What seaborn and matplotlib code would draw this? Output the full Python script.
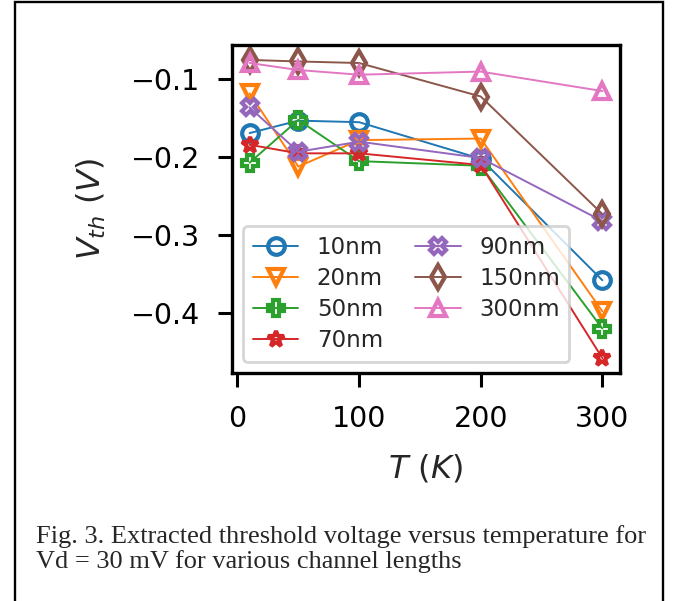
import matplotlib
matplotlib.use("Agg")
import matplotlib.pyplot as plt
import seaborn as sns
from matplotlib.patches import Rectangle

# temperature points (K)
temps = [10, 50, 100, 200, 300]

# threshold voltage (V) per channel length
vth_10nm = [-0.169, -0.153, -0.155, -0.202, -0.358]
vth_20nm = [-0.118, -0.212, -0.178, -0.176, -0.398]
vth_50nm = [-0.207, -0.152, -0.205, -0.211, -0.420]
vth_70nm = [-0.184, -0.195, -0.195, -0.210, -0.458]
vth_90nm = [-0.136, -0.193, -0.180, -0.201, -0.282]
vth_150nm = [-0.075, -0.077, -0.079, -0.122, -0.273]
vth_300nm = [-0.079, -0.088, -0.094, -0.090, -0.115]

labels = ["10nm", "20nm", "50nm", "70nm", "90nm", "150nm", "300nm"]
series = [vth_10nm, vth_20nm, vth_50nm, vth_70nm, vth_90nm, vth_150nm, vth_300nm]
markers = ["o", "v", "P", "*", "X", "d", "^"]

sns.set_style("ticks")
plt.rcParams["font.family"] = ["DejaVu Sans"]
plt.rcParams["mathtext.fontset"] = "dejavusans"

colors = sns.color_palette("tab10", len(labels))

fig = plt.figure(figsize=(6.81, 6.01), dpi=100)
ax = fig.add_axes([232 / 681, 1 - 373 / 601, 388 / 681, 328 / 601])

for lab, vals, mk, c in zip(labels, series, markers, colors):
    sns.lineplot(x=temps, y=vals, ax=ax, color=c, marker=mk, mec=c,
                 fillstyle="none", ms=12, mew=3.0, lw=1.4, label=lab)

ax.set_xticks([0, 100, 200, 300])
ax.set_yticks([-0.1, -0.2, -0.3, -0.4])
ax.set_xlabel(r"$T\ (K)$", fontsize=23, labelpad=14)
ax.set_ylabel(r"$V_{th}\ (V)$", fontsize=23, labelpad=16)
ax.tick_params(axis="both", labelsize=20.5, length=10, width=2.2,
               colors="black", pad=13)
for sp in ax.spines.values():
    sp.set_linewidth(2.4)
    sp.set_color("black")

leg = ax.legend(loc="lower left", ncol=2, fontsize=16.5, frameon=True,
                handlelength=2.0, labelspacing=0.36, columnspacing=1.4)
leg.get_frame().set_linewidth(2.0)
leg.get_frame().set_edgecolor("0.8")

# page border and caption around the figure
fig.patches.append(Rectangle((15 / 681, -0.05), 648 / 681, 1.05 - 2 / 601,
                             transform=fig.transFigure, fill=False,
                             edgecolor="black", linewidth=1.7))
fig.text(36 / 681, 1 - 543 / 601,
         "Fig. 3. Extracted threshold voltage versus temperature for",
         family="Liberation Serif", fontsize=19, va="baseline")
fig.text(36 / 681, 1 - 568 / 601,
         "Vd = 30 mV for various channel lengths",
         family="Liberation Serif", fontsize=19, va="baseline")

fig.savefig("out.png", dpi=100)
